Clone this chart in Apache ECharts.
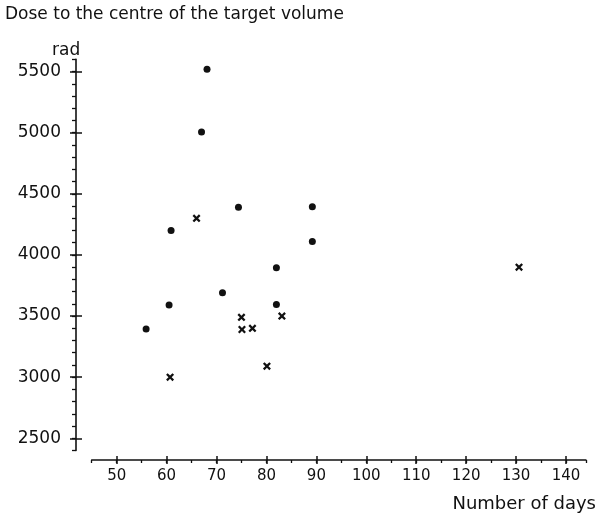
<!DOCTYPE html>
<html><head><meta charset="utf-8">
<script src="https://cdn.jsdelivr.net/npm/echarts@6/dist/echarts.min.js"></script>
<style>html,body{margin:0;padding:0;background:#fff}#c{width:601px;height:518px}</style>
</head><body><div id="c"></div>
<script>
// Data
const circleDays = [68.1, 67.0, 74.4, 89.2, 89.2, 60.9, 60.5, 55.9, 71.2, 82.0, 82.0];
const circleDose = [5520, 5005, 4390, 4395, 4110, 4200, 3590, 3395, 3690, 3895, 3595];
const crossDays = [66.0, 60.7, 75.0, 75.1, 77.2, 80.1, 83.1, 130.6];
const crossDose = [4300, 3000, 3490, 3390, 3400, 3090, 3500, 3900];
const xMajorTicks = [50, 140, 10];   // first, last, step
const yMajorTicks = [2500, 5500, 500];
const titleText = 'Dose to the centre of the target volume';
const yUnit = 'rad';
const xTitle = 'Number of days';

const FONT = 'DejaVu Sans';
const INK = '#111';
const crossPath = 'path://M0,2 L2,0 L5,3 L8,0 L10,2 L7,5 L10,8 L8,10 L5,7 L2,10 L0,8 L3,5 Z';
const plain = v => String(v);

const chart = echarts.init(document.getElementById('c'), null, {renderer: 'canvas'});
const lineStyle = {color: INK, width: 1.6};
chart.setOption({
  animation: false,
  backgroundColor: '#fff',
  grid: [
    {left: 91.7, right: 15.1, top: 59.4, bottom: 67.5},
    {left: 116.7, right: 35.0, top: 71.6, bottom: 79.7}
  ],
  xAxis: [
    {gridIndex: 0, type: 'value', position: 'bottom', min: 45, max: 144, interval: 5, offset: 9.5,
     axisLine: {show: true, lineStyle}, axisTick: {show: true, length: 3, lineStyle: {color: INK, width: 1.3}},
     axisLabel: {show: false}, splitLine: {show: false}},
    {gridIndex: 1, type: 'value', position: 'bottom', min: xMajorTicks[0], max: xMajorTicks[1], interval: xMajorTicks[2], offset: 21.7,
     axisLine: {show: false}, axisTick: {show: true, length: 4, lineStyle: {color: INK, width: 1.5}},
     axisLabel: {show: true, margin: 9, color: INK, fontFamily: FONT, fontSize: 15, formatter: plain},
     splitLine: {show: false}},
    {gridIndex: 1, type: 'value', position: 'bottom', min: xMajorTicks[0], max: xMajorTicks[1], interval: xMajorTicks[2], offset: 21.7,
     axisLine: {show: false}, axisTick: {show: true, inside: true, length: 4, lineStyle: {color: INK, width: 1.5}},
     axisLabel: {show: false}, splitLine: {show: false}}
  ],
  yAxis: [
    {gridIndex: 0, type: 'value', position: 'left', min: 2400, max: 5600, interval: 100, offset: 15.7,
     axisLine: {show: true, lineStyle}, axisTick: {show: true, length: 4, lineStyle: {color: INK, width: 1.3}},
     axisLabel: {show: false}, splitLine: {show: false}},
    {gridIndex: 1, type: 'value', position: 'left', min: yMajorTicks[0], max: yMajorTicks[1], interval: yMajorTicks[2], offset: 40.7,
     axisLine: {show: false}, axisTick: {show: true, length: 6, lineStyle: {color: INK, width: 1.5}},
     axisLabel: {show: true, margin: 15, color: INK, fontFamily: FONT, fontSize: 17, formatter: plain},
     splitLine: {show: false}},
    {gridIndex: 1, type: 'value', position: 'left', min: yMajorTicks[0], max: yMajorTicks[1], interval: yMajorTicks[2], offset: 40.7,
     axisLine: {show: false}, axisTick: {show: true, inside: true, length: 6, lineStyle: {color: INK, width: 1.5}},
     axisLabel: {show: false}, splitLine: {show: false}}
  ],
  graphic: [
    {type: 'text', left: 5, top: 6, style: {text: titleText, font: '17px "' + FONT + '"', fill: INK}},
    {type: 'text', left: 52, top: 42, style: {text: yUnit, font: '17px "' + FONT + '"', fill: INK}},
    {type: 'text', right: 5, top: 495, style: {text: xTitle, font: '18px "' + FONT + '"', fill: INK}}
  ],
  series: [
    {type: 'scatter', xAxisIndex: 0, yAxisIndex: 0, symbol: 'circle', symbolSize: 7,
     itemStyle: {color: INK, opacity: 1},
     data: circleDays.map((d, i) => [d, circleDose[i]])},
    {type: 'scatter', xAxisIndex: 0, yAxisIndex: 0, symbol: crossPath, symbolSize: 8,
     itemStyle: {color: INK, opacity: 1},
     data: crossDays.map((d, i) => [d, crossDose[i]])},
    {type: 'scatter', xAxisIndex: 1, yAxisIndex: 1, data: [], silent: true}
  ]
});
</script></body></html>
